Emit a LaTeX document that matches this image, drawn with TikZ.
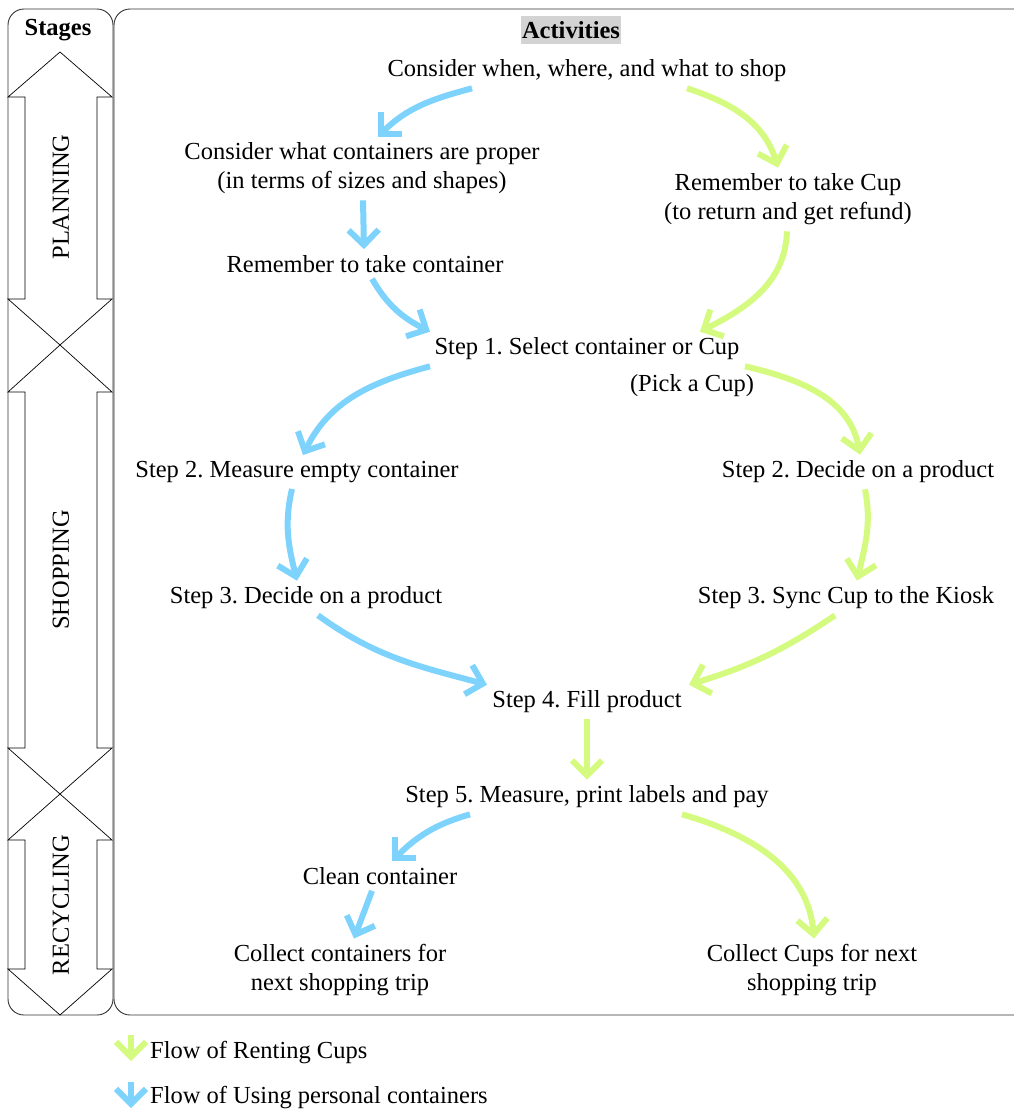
\documentclass[tikz,border=0pt]{standalone}
\usepackage{fontspec}
\setmainfont{Liberation Serif}
\usetikzlibrary{arrows.meta}
\definecolor{flowblue}{RGB}{125,211,252}
\definecolor{flowgreen}{RGB}{213,250,128}
\definecolor{hdrgray}{RGB}{211,211,211}
\frenchspacing
\begin{document}
\begin{tikzpicture}[x=1pt,y=1pt,
  txt/.style={font=\fontsize{24.5}{29}\selectfont, inner xsep=0pt, inner ysep=6pt, align=center},
  flow/.style={line width=6pt, -{Straight Barb[length=15pt,width=30pt]}},
  bflow/.style={flow, draw=flowblue},
  gflow/.style={flow, draw=flowgreen},
  frame/.style={draw=black!80, line width=0.9pt, rounded corners=16pt},
  stagearrow/.style={draw=black, line width=0.7pt},
  stagelbl/.style={font=\fontsize{24.5}{29}\selectfont, rotate=90, inner sep=0pt}
]
\useasboundingbox (0,0) rectangle (1014,-1109);

% frames
\draw[frame] (8,-9) rectangle (113,-1015);
\draw[frame] (114,-9) rectangle (1045,-1015);

% stage arrows
\draw[stagearrow] (60,-52) -- (112,-97) -- (97,-97) -- (97,-299) -- (112,-299) -- (60,-345)
  -- (8,-299) -- (25,-299) -- (25,-97) -- (8,-97) -- cycle;
\draw[stagearrow] (60,-345) -- (112,-392) -- (97,-392) -- (97,-748) -- (112,-748) -- (60,-794)
  -- (8,-748) -- (25,-748) -- (25,-392) -- (8,-392) -- cycle;
\draw[stagearrow] (60,-794) -- (112,-840) -- (97,-840) -- (97,-969) -- (112,-969) -- (60,-1015)
  -- (8,-969) -- (25,-969) -- (25,-840) -- (8,-840) -- cycle;
\node[stagelbl] (planning) at (61,-197) {PLANNING};
\node[stagelbl] (shopping) at (61,-570) {SHOPPING};
\node[stagelbl] (recycling) at (61,-905) {RECYCLING};

% headers
\node[font=\fontsize{24.5}{29}\selectfont\bfseries, inner sep=0pt] (stages) at (58,-30) {Stages};
\node[font=\fontsize{24.5}{29}\selectfont\bfseries, fill=hdrgray, inner xsep=1pt, inner ysep=0pt, minimum height=28pt] (activities) at (571,-30) {Activities};

% activity nodes
\node[txt] (shop) at (587,-71) {Consider when, where, and what to shop};
\node[txt] (cont) at (362,-168.5) {Consider what containers are proper\\(in terms of sizes and shapes)};
\node[txt] (cup) at (788,-199.5) {Remember to take Cup\\(to return and get refund)};
\node[txt] (take) at (365,-264) {Remember to take container};
\node[txt] (s1) at (587,-349) {Step 1. Select container or Cup};
\node[txt] (pick) at (692,-386) {(Pick a Cup)};
\node[txt] (s2l) at (297,-472) {Step 2. Measure empty container};
\node[txt] (s2r) at (858,-472) {Step 2. Decide on a product};
\node[txt] (s3l) at (306,-598) {Step 3. Decide on a product};
\node[txt] (s3r) at (846,-598) {Step 3. Sync Cup to the Kiosk};
\node[txt] (s4) at (587,-702) {Step 4. Fill product};
\node[txt] (s5) at (587,-797) {Step 5. Measure, print labels and pay};
\node[txt] (clean) at (380,-876) {Clean container};
\node[txt] (coll) at (340,-970.5) {Collect containers for\\next shopping trip};
\node[txt] (collc) at (812,-970.5) {Collect Cups for next\\shopping trip};

% blue flow
\draw[bflow] ([xshift=-115pt]shop.south) to[out=195,in=45] ([xshift=16pt]cont.north);
\draw[bflow] ([xshift=1pt]cont.south) -- ([xshift=-1pt]take.north);
\draw[bflow] ([xshift=7pt]take.south) to[out=-60,in=153] ([xshift=-157pt]s1.north);
\draw[bflow] ([xshift=-157pt]s1.south) to[out=195,in=64] ([xshift=6pt]s2l.north);
\draw[bflow] ([xshift=-5pt]s2l.south) to[out=257,in=104] ([xshift=-9pt]s3l.north);
\draw[bflow] ([xshift=12pt]s3l.south) to[out=-36,in=165] ([xshift=-100pt]s4.north);
\draw[bflow] ([xshift=-117pt]s5.south) to[out=196,in=45] ([xshift=12pt]clean.north);
\draw[bflow] ([xshift=-8pt]clean.south) -- ([xshift=14pt]coll.north);

% green flow
\draw[gflow] ([xshift=100pt]shop.south) to[out=-18,in=107] ([xshift=-10pt]cup.north);
\draw[gflow] ([xshift=-1pt]cup.south) to[out=-92,in=27] ([xshift=113pt]s1.north);
\draw[gflow] ([xshift=158pt]s1.south) to[out=-13,in=100] ([xshift=2pt]s2r.north);
\draw[gflow] ([xshift=7pt]s2r.south) to[out=-79,in=77] ([xshift=11pt]s3r.north);
\draw[gflow] ([xshift=-11pt]s3r.south) to[out=214,in=17] ([xshift=102pt]s4.north);
\draw[gflow] (s4.south) -- (s5.north);
\draw[gflow] ([xshift=95pt]s5.south) to[out=-16,in=95] ([xshift=2pt]collc.north);

% legend
\coordinate (lg1) at (131,-1035);
\coordinate (lg1e) at (131,-1061);
\coordinate (lb1) at (131,-1082);
\coordinate (lb1e) at (131,-1108);
\draw[gflow] (lg1) -- (lg1e);
\draw[bflow] (lb1) -- (lb1e);
\node[font=\fontsize{24.5}{29}\selectfont, anchor=west, inner sep=0pt] (lgtxt) at (150,-1053) {Flow of Renting Cups};
\node[font=\fontsize{24.5}{29}\selectfont, anchor=west, inner sep=0pt] (lbtxt) at (150,-1098) {Flow of Using personal containers};
\end{tikzpicture}
\end{document}
